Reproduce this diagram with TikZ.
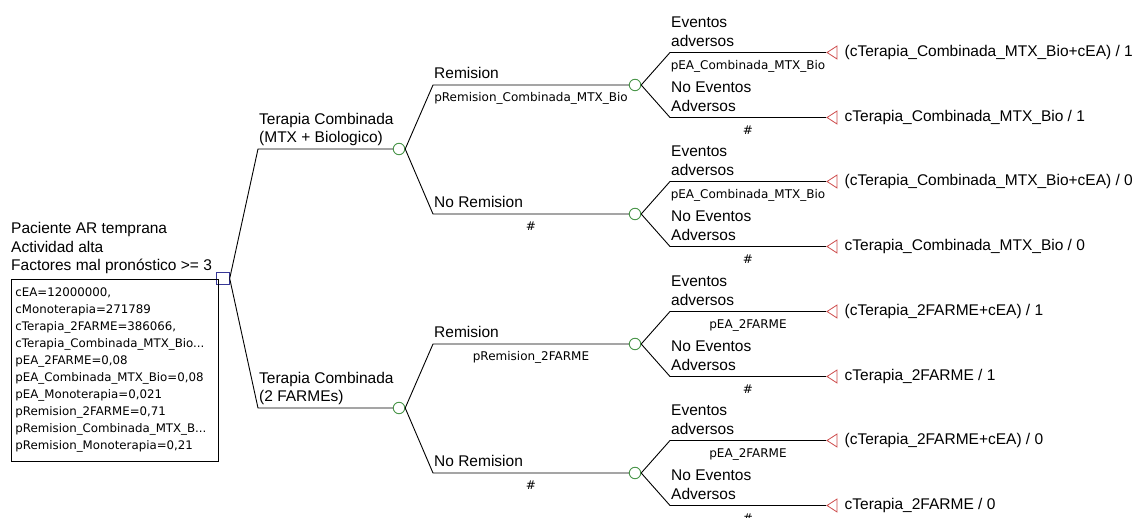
\documentclass[tikz,border=0pt]{standalone}
\usepackage{fontspec}
\setmainfont{Liberation Sans}
\newfontfamily\petite{DejaVu Sans}
\usetikzlibrary{positioning,shapes.geometric}

\definecolor{bleudec}{RGB}{55,55,150}
\definecolor{vertch}{RGB}{75,150,75}
\definecolor{rougeterm}{RGB}{205,75,75}

\tikzset{
  decision/.style={draw=bleudec, fill=white, line width=0.9pt, minimum size=12.5pt, inner sep=0pt},
  hasard/.style={circle, draw=vertch, fill=white, line width=0.9pt, minimum size=11.5pt, inner sep=0pt},
  terminal/.style={isosceles triangle, isosceles triangle stretches, shape border rotate=180,
    draw=rougeterm, line width=0.8pt, minimum height=10pt, minimum width=13pt, inner sep=0pt, anchor=apex},
  branche/.style={line width=0.9pt},
  etiq/.style={anchor=south west, inner sep=0pt, text depth=0pt, align=left,
    font=\fontsize{15.5}{18.5}\selectfont},
  proba/.style={anchor=base, inner sep=0pt, yshift=-17pt, font=\petite\fontsize{12}{14}\selectfont},
  gain/.style={anchor=west, inner sep=0pt, font=\fontsize{15.5}{18.5}\selectfont}
}

\begin{document}
\begin{tikzpicture}[x=1pt, y=-1pt]
  \useasboundingbox (0,0) rectangle (1144,518);

  % -- racine
  \node[decision] (paciente) at (223,278.5) {};
  \node[etiq] (pacientelbl) at (11,271)
    {Paciente AR temprana\\Actividad alta\\Factores mal pronóstico >= 3};
  \node[draw, anchor=north west, line width=0.9pt, text width=199pt, inner xsep=4pt, inner ysep=0pt,
        minimum height=182pt, align=left, font=\petite\fontsize{11.8}{17}\selectfont] (variables) at (11,279)
    {cEA=12000000,\\cMonoterapia=271789\\cTerapia\_2FARME=386066,\\cTerapia\_Combinada\_MTX\_Bio...\\
     pEA\_2FARME=0,08\\pEA\_Combinada\_MTX\_Bio=0,08\\pEA\_Monoterapia=0,021\\pRemision\_2FARME=0,71\\
     pRemision\_Combinada\_MTX\_B...\\pRemision\_Monoterapia=0,21};

  % -- Terapia Combinada (MTX + Biologico)
  \coordinate (kbio) at (258,149);
  \node[hasard] (bio) at (399,149) {};
  \draw[branche] (paciente.east) -- (kbio) -- (bio);
  \node[etiq, above right=6pt and 1pt of kbio] (biolbl) {Terapia Combinada\\(MTX + Biologico)};

  % -- Terapia Combinada (2 FARMEs)
  \coordinate (kfarme) at (258,408);
  \node[hasard] (farme) at (399,408) {};
  \draw[branche] (paciente.east) -- (kfarme) -- (farme);
  \node[etiq, above right=6pt and 1pt of kfarme] (farmelbl) {Terapia Combinada\\(2 FARMEs)};

  % Remision / No Remision (MTX + Bio)
  \coordinate (kremb) at (433,85);
  \coordinate (knoremb) at (433,214);
  \node[hasard] (remb) at (635,85) {};
  \node[hasard] (noremb) at (635,214) {};
  \draw[branche] (bio.east) -- (kremb) -- (remb);
  \draw[branche] (bio.east) -- (knoremb) -- (noremb);
  \node[etiq, above right=6pt and 1pt of kremb] (remblbl) {Remision};
  \node[etiq, above right=6pt and 1pt of knoremb] (noremblbl) {No Remision};
  \node[proba] (premb) at (531,85) {pRemision\_Combinada\_MTX\_Bio};
  \node[proba] (pnoremb) at (531,214) {\#};

  % Remision / No Remision (2 FARMEs)
  \coordinate (kremf) at (433,344);
  \coordinate (knoremf) at (433,473);
  \node[hasard] (remf) at (635,344) {};
  \node[hasard] (noremf) at (635,473) {};
  \draw[branche] (farme.east) -- (kremf) -- (remf);
  \draw[branche] (farme.east) -- (knoremf) -- (noremf);
  \node[etiq, above right=6pt and 1pt of kremf] (remflbl) {Remision};
  \node[etiq, above right=6pt and 1pt of knoremf] (noremflbl) {No Remision};
  \node[proba] (premf) at (531,344) {pRemision\_2FARME};
  \node[proba] (pnoremf) at (531,473) {\#};

  % eventos adversos -- remision, MTX + Bio
  \coordinate (keab1) at (670,52.5);
  \coordinate (knoeab1) at (670,117.5);
  \node[terminal] (eab1) at (826,52.5) {};
  \node[terminal] (noeab1) at (826,117.5) {};
  \draw[branche] (remb.east) -- (keab1) -- (eab1);
  \draw[branche] (remb.east) -- (knoeab1) -- (noeab1);
  \node[etiq, above right=6pt and 1pt of keab1] {Eventos\\adversos};
  \node[etiq, above right=6pt and 1pt of knoeab1] {No Eventos\\Adversos};
  \node[proba] (peab1) at (748,52.5) {pEA\_Combinada\_MTX\_Bio};
  \node[proba] (pnoeab1) at (748,117.5) {\#};
  \node[gain, right=7pt of eab1] {(cTerapia\_Combinada\_MTX\_Bio+cEA) / 1};
  \node[gain, right=7pt of noeab1] {cTerapia\_Combinada\_MTX\_Bio / 1};

  % eventos adversos -- no remision, MTX + Bio
  \coordinate (keab0) at (670,181.5);
  \coordinate (knoeab0) at (670,246.5);
  \node[terminal] (eab0) at (826,181.5) {};
  \node[terminal] (noeab0) at (826,246.5) {};
  \draw[branche] (noremb.east) -- (keab0) -- (eab0);
  \draw[branche] (noremb.east) -- (knoeab0) -- (noeab0);
  \node[etiq, above right=6pt and 1pt of keab0] {Eventos\\adversos};
  \node[etiq, above right=6pt and 1pt of knoeab0] {No Eventos\\Adversos};
  \node[proba] (peab0) at (748,181.5) {pEA\_Combinada\_MTX\_Bio};
  \node[proba] (pnoeab0) at (748,246.5) {\#};
  \node[gain, right=7pt of eab0] {(cTerapia\_Combinada\_MTX\_Bio+cEA) / 0};
  \node[gain, right=7pt of noeab0] {cTerapia\_Combinada\_MTX\_Bio / 0};

  % eventos adversos -- remision, 2 FARMEs
  \coordinate (keaf1) at (670,311.5);
  \coordinate (knoeaf1) at (670,376.5);
  \node[terminal] (eaf1) at (826,311.5) {};
  \node[terminal] (noeaf1) at (826,376.5) {};
  \draw[branche] (remf.east) -- (keaf1) -- (eaf1);
  \draw[branche] (remf.east) -- (knoeaf1) -- (noeaf1);
  \node[etiq, above right=6pt and 1pt of keaf1] {Eventos\\adversos};
  \node[etiq, above right=6pt and 1pt of knoeaf1] {No Eventos\\Adversos};
  \node[proba] (peaf1) at (748,311.5) {pEA\_2FARME};
  \node[proba] (pnoeaf1) at (748,376.5) {\#};
  \node[gain, right=7pt of eaf1] {(cTerapia\_2FARME+cEA) / 1};
  \node[gain, right=7pt of noeaf1] {cTerapia\_2FARME / 1};

  % eventos adversos -- no remision, 2 FARMEs
  \coordinate (keaf0) at (670,440.5);
  \coordinate (knoeaf0) at (670,505.5);
  \node[terminal] (eaf0) at (826,440.5) {};
  \node[terminal] (noeaf0) at (826,505.5) {};
  \draw[branche] (noremf.east) -- (keaf0) -- (eaf0);
  \draw[branche] (noremf.east) -- (knoeaf0) -- (noeaf0);
  \node[etiq, above right=6pt and 1pt of keaf0] {Eventos\\adversos};
  \node[etiq, above right=6pt and 1pt of knoeaf0] {No Eventos\\Adversos};
  \node[proba] (peaf0) at (748,440.5) {pEA\_2FARME};
  \node[proba] (pnoeaf0) at (748,505.5) {\#};
  \node[gain, right=7pt of eaf0] {(cTerapia\_2FARME+cEA) / 0};
  \node[gain, right=7pt of noeaf0] {cTerapia\_2FARME / 0};
\end{tikzpicture}
\end{document}
